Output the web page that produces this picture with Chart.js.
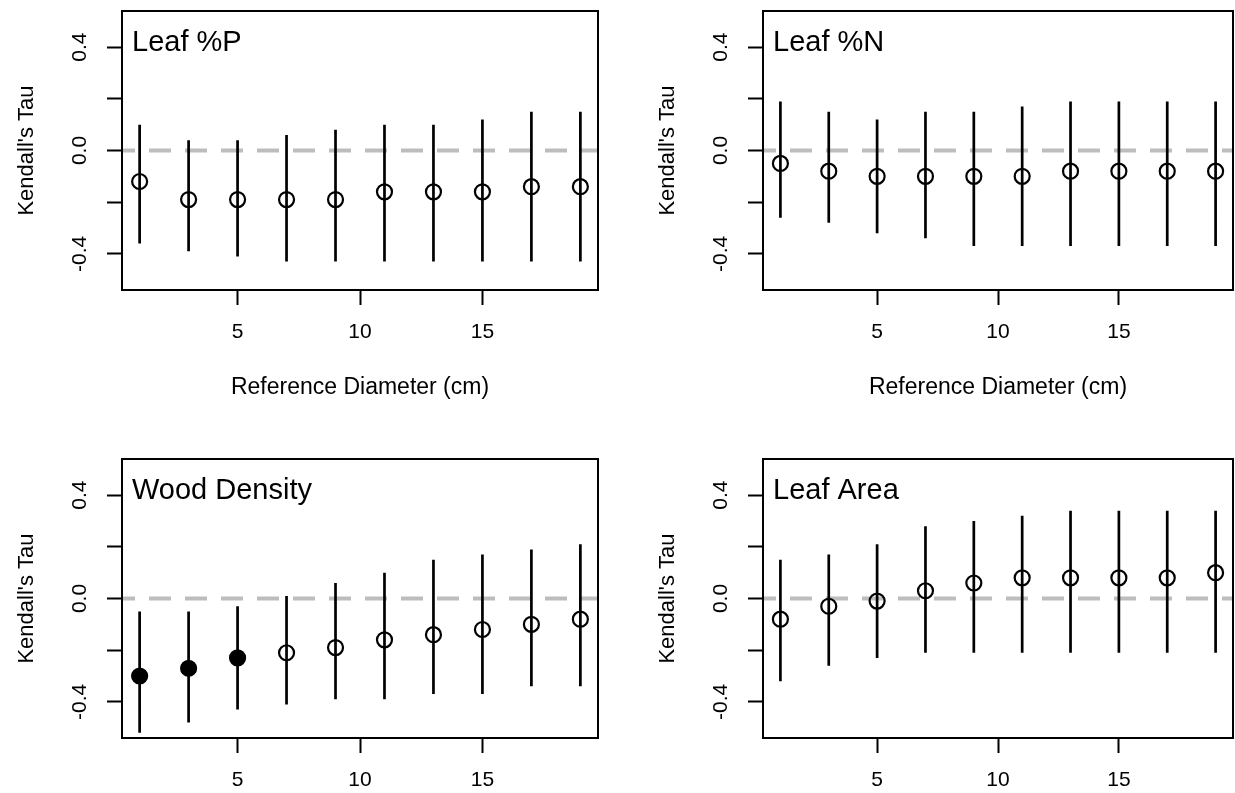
<!DOCTYPE html>
<html>
<head>
<meta charset="utf-8">
<script src="https://cdn.jsdelivr.net/npm/chart.js@4.4.1/dist/chart.umd.min.js"></script>
<style>
    html, body { margin: 0; padding: 0; background: #fff; overflow: hidden; }
    #wrap { position: relative; width: 1235px; height: 793px; }
    canvas { position: absolute; }
</style>
</head>
<body>
<div id="wrap">
    <canvas id="chartP" width="617" height="401" style="left:0px;top:0px"></canvas>
    <canvas id="chartN" width="594" height="401" style="left:641px;top:0px"></canvas>
    <canvas id="chartWD" width="617" height="401" style="left:0px;top:448px"></canvas>
    <canvas id="chartLA" width="594" height="401" style="left:641px;top:448px"></canvas>
</div>
<script>
// reference diameters (cm)
const diameters = [1, 3, 5, 7, 9, 11, 13, 15, 17, 19];
const xTicks = [5, 10, 15];
const yTicks = [-0.4, -0.2, 0, 0.2, 0.4];

// Leaf %P
const leafP_tau = [-0.12, -0.19, -0.19, -0.19, -0.19, -0.16, -0.16, -0.16, -0.14, -0.14];
const leafP_hi  = [0.10, 0.04, 0.04, 0.06, 0.08, 0.10, 0.10, 0.12, 0.15, 0.15];
const leafP_lo  = [-0.36, -0.39, -0.41, -0.43, -0.43, -0.43, -0.43, -0.43, -0.43, -0.43];
const leafP_sig = [false, false, false, false, false, false, false, false, false, false];

// Leaf %N
const leafN_tau = [-0.05, -0.08, -0.10, -0.10, -0.10, -0.10, -0.08, -0.08, -0.08, -0.08];
const leafN_hi  = [0.19, 0.15, 0.12, 0.15, 0.15, 0.17, 0.19, 0.19, 0.19, 0.19];
const leafN_lo  = [-0.26, -0.28, -0.32, -0.34, -0.37, -0.37, -0.37, -0.37, -0.37, -0.37];
const leafN_sig = [false, false, false, false, false, false, false, false, false, false];

// Wood Density
const wood_tau = [-0.30, -0.27, -0.23, -0.21, -0.19, -0.16, -0.14, -0.12, -0.10, -0.08];
const wood_hi  = [-0.05, -0.05, -0.03, 0.01, 0.06, 0.10, 0.15, 0.17, 0.19, 0.21];
const wood_lo  = [-0.52, -0.48, -0.43, -0.41, -0.39, -0.39, -0.37, -0.37, -0.34, -0.34];
const wood_sig = [true, true, true, false, false, false, false, false, false, false];

// Leaf Area
const area_tau = [-0.08, -0.03, -0.01, 0.03, 0.06, 0.08, 0.08, 0.08, 0.08, 0.10];
const area_hi  = [0.15, 0.17, 0.21, 0.28, 0.30, 0.32, 0.34, 0.34, 0.34, 0.34];
const area_lo  = [-0.32, -0.26, -0.23, -0.21, -0.21, -0.21, -0.21, -0.21, -0.21, -0.21];
const area_sig = [false, false, false, false, false, false, false, false, false, false];

const FONT = "'Liberation Sans', Arial, Helvetica, sans-serif";
const X_MIN = 0.28, X_MAX = 19.72;

// frame round the plot region + panel label in the top left corner
const panelPlugin = {
    id: 'panel',
    afterDraw(chart) {
        const a = chart.chartArea;
        const ctx = chart.ctx;
        ctx.save();
        ctx.strokeStyle = '#000';
        ctx.lineWidth = 2;
        ctx.strokeRect(a.left, a.top, a.right - a.left, a.bottom - a.top);
        ctx.fillStyle = '#000';
        ctx.font = '29px ' + FONT;
        ctx.textBaseline = 'alphabetic';
        ctx.fillText(chart.options.plugins.panel.label, a.left + 10, a.top + 40);
        ctx.restore();
    }
};

function makePanel(canvasId, label, tau, hi, lo, sig, rightPad) {
    var points = diameters.map((d, i) => ({x: d, y: tau[i]}));
    var bars = [];
    diameters.forEach((d, i) => {
        bars.push({x: d, y: lo[i]});
        bars.push({x: d, y: hi[i]});
        bars.push({x: d, y: null});
    });

    return new Chart(document.getElementById(canvasId), {
        type: 'scatter',
        data: {
            datasets: [
            {
                label: 'tau',
                data: points,
                pointRadius: 7.5,
                pointHoverRadius: 7.5,
                pointBorderWidth: 2.2,
                pointBorderColor: '#000',
                pointBackgroundColor: sig.map(s => s ? '#000' : 'rgba(0,0,0,0)'),
                order: 1
            },
            {
                label: 'ci',
                data: bars,
                showLine: true,
                spanGaps: false,
                pointRadius: 0,
                borderColor: '#000',
                borderWidth: 2.7,
                order: 2
            },
            {
                label: 'zero',
                data: [{x: X_MIN, y: 0}, {x: X_MAX, y: 0}],
                showLine: true,
                pointRadius: 0,
                borderColor: '#bdbdbd',
                borderWidth: 4,
                borderDash: [22, 14],
                borderDashOffset: 9,
                order: 3
            }
            ]
        },
        options: {
            responsive: false,
            animation: false,
            events: [],
            layout: {
                autoPadding: false,
                padding: {left: 14, top: 11, right: rightPad, bottom: 0}
            },
            scales: {
                x: {
                    type: 'linear',
                    min: X_MIN,
                    max: X_MAX,
                    afterBuildTicks: scale => { scale.ticks = xTicks.map(v => ({value: v})); },
                    afterFit: scale => {
                        scale.height = 111;
                        scale.paddingLeft = 0; scale.paddingRight = 0;
                    },
                    grid: {
                        drawOnChartArea: false,
                        drawTicks: true,
                        tickLength: 15,
                        tickWidth: 2,
                        tickColor: '#000'
                    },
                    border: { display: false },
                    ticks: {
                        autoSkip: false,
                        padding: 15,
                        color: '#000',
                        font: { family: FONT, size: 21 },
                        maxRotation: 0,
                        callback: v => String(v)
                    },
                    title: {
                        display: true,
                        text: 'Reference Diameter (cm)',
                        color: '#000',
                        padding: 0,
                        font: { family: FONT, size: 23 }
                    }
                },
                y: {
                    type: 'linear',
                    min: -0.54,
                    max: 0.54,
                    afterBuildTicks: scale => { scale.ticks = yTicks.map(v => ({value: v})); },
                    afterFit: scale => {
                        scale.width = 108;
                        scale.paddingTop = 0; scale.paddingBottom = 0;
                    },
                    grid: {
                        drawOnChartArea: false,
                        drawTicks: true,
                        tickLength: 15,
                        tickWidth: 2,
                        tickColor: '#000'
                    },
                    border: { display: false },
                    ticks: {
                        autoSkip: false,
                        padding: 9,
                        minRotation: 90,
                        maxRotation: 90,
                        crossAlign: 'center',
                        color: '#000',
                        font: { family: FONT, size: 21 },
                        // only every other tick gets a label, like R does
                        callback: v => (Math.round(v * 10) % 4 === 0) ? v.toFixed(1) : ''
                    },
                    title: {
                        display: true,
                        text: "Kendall's Tau",
                        color: '#000',
                        padding: 0,
                        font: { family: FONT, size: 22 }
                    }
                }
            },
            plugins: {
                legend: { display: false },
                tooltip: { enabled: false },
                panel: { label: label }
            }
        },
        plugins: [panelPlugin]
    });
}

makePanel('chartP', 'Leaf %P', leafP_tau, leafP_hi, leafP_lo, leafP_sig, 19);
makePanel('chartN', 'Leaf %N', leafN_tau, leafN_hi, leafN_lo, leafN_sig, 2);
makePanel('chartWD', 'Wood Density', wood_tau, wood_hi, wood_lo, wood_sig, 19);
makePanel('chartLA', 'Leaf Area', area_tau, area_hi, area_lo, area_sig, 2);
</script>
</body>
</html>
